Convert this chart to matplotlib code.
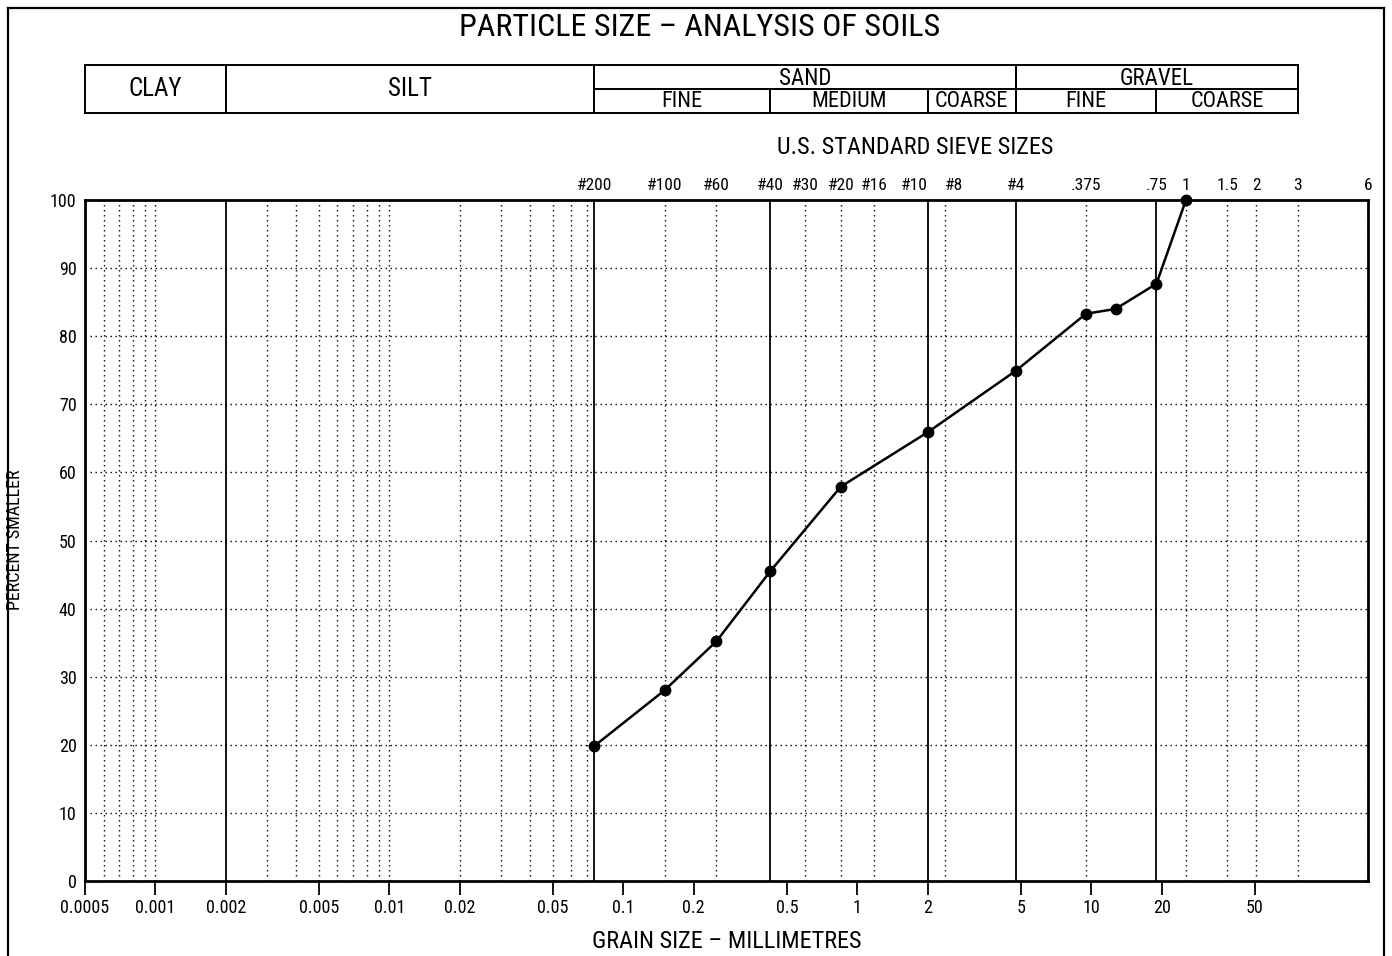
import matplotlib
matplotlib.use("Agg")
import matplotlib.pyplot as plt
from matplotlib.lines import Line2D
from matplotlib.ticker import NullLocator, FixedLocator, FixedFormatter
from matplotlib import font_manager

installed = {f.name for f in font_manager.fontManager.ttflist}
FONT = [f for f in ['Liberation Sans Narrow', 'Roboto Condensed', 'Roboto', 'DejaVu Sans']
        if f in installed]
plt.rcParams['font.family'] = FONT

# ---------------- data ----------------
grain_mm = [0.075, 0.15, 0.25, 0.425, 0.85, 2.0, 4.75, 9.5, 12.7, 19.0, 25.4]
percent_smaller = [19.8, 28.0, 35.2, 45.5, 57.9, 65.9, 74.9, 83.3, 84.0, 87.7, 100.0]

x_ticks = [0.0005, 0.001, 0.002, 0.005, 0.01, 0.02, 0.05, 0.1, 0.2, 0.5, 1, 2, 5, 10, 20, 50]
x_tick_labels = ['0.0005', '0.001', '0.002', '0.005', '0.01', '0.02', '0.05',
                 '0.1', '0.2', '0.5', '1', '2', '5', '10', '20', '50']
y_ticks = [0, 10, 20, 30, 40, 50, 60, 70, 80, 90, 100]

sieve_mm = [0.075, 0.15, 0.25, 0.425, 0.6, 0.85, 1.18, 2.0, 2.36, 4.75,
            9.5, 19.0, 25.4, 38.1, 50.8, 76.2, 152.4]
sieve_labels = ['#200', '#100', '#60', '#40', '#30', '#20', '#16', '#10', '#8', '#4',
                '.375', '.75', '1', '1.5', '2', '3', '6']

boundary_mm = [0.002, 0.075, 0.425, 2.0, 4.75, 19.0]
minor_grid_mm = [0.0006, 0.0007, 0.0008, 0.0009, 0.001,
                 0.003, 0.004, 0.005, 0.006, 0.007, 0.008, 0.009, 0.01,
                 0.02, 0.03, 0.04, 0.05, 0.06, 0.07,
                 0.15, 0.25, 0.6, 0.85, 1.18, 2.36, 9.5,
                 25.4, 38.1, 50.8, 76.2, 152.4]

class_full = [('CLAY', 0.0005, 0.002), ('SILT', 0.002, 0.075)]
class_top = [('SAND', 0.075, 4.75), ('GRAVEL', 4.75, 76.2)]
class_sub = [('FINE', 0.075, 0.425), ('MEDIUM', 0.425, 2.0), ('COARSE', 2.0, 4.75),
             ('FINE', 4.75, 19.0), ('COARSE', 19.0, 76.2)]

X_MIN, X_MAX = 0.0005, 152.4

# ---------------- figure ----------------
W, H = 1392, 956
fig = plt.figure(figsize=(W / 100, H / 100), dpi=100)
fig.patch.set_facecolor('white')

def fx(px):
    return px / W

def fy(py):
    return 1 - py / H

L, R, T, B = 85, 1368, 200, 881
ax = fig.add_axes([fx(L), fy(B), fx(R - L), (B - T) / H])
ax.set_xscale('log')
ax.set_xlim(X_MIN, X_MAX)
ax.set_ylim(0, 100)

for s in ax.spines.values():
    s.set_linewidth(2.0)
    s.set_color('black')

dotted = (0, (1, 2.6))
for v in minor_grid_mm:
    ax.axvline(v, color='black', lw=1.0, ls=dotted, zorder=1)
for v in boundary_mm:
    ax.axvline(v, color='black', lw=1.3, zorder=1)
for v in y_ticks[1:-1]:
    ax.axhline(v, color='black', lw=1.0, ls=dotted, zorder=1)

ax.plot(grain_mm, percent_smaller, color='black', lw=1.8, marker='o',
        markersize=7.5, clip_on=False, zorder=5)

ax.xaxis.set_major_locator(FixedLocator(x_ticks))
ax.xaxis.set_major_formatter(FixedFormatter(x_tick_labels))
ax.xaxis.set_minor_locator(NullLocator())
ax.tick_params(axis='x', direction='out', length=10, width=1.3, pad=3, labelsize=13)
ax.set_yticks(y_ticks)
ax.tick_params(axis='y', length=0, pad=6, labelsize=13)

sec = ax.secondary_xaxis('top')
sec.xaxis.set_major_locator(FixedLocator(sieve_mm))
sec.xaxis.set_major_formatter(FixedFormatter(sieve_labels))
sec.xaxis.set_minor_locator(NullLocator())
sec.tick_params(length=0, pad=5, labelsize=12.5)
sec.spines['top'].set_visible(False)
for lab in sec.get_xticklabels():
    if lab.get_text() == '#10':
        lab.set_horizontalalignment('right')
    elif lab.get_text() == '#8':
        lab.set_horizontalalignment('left')

# ---------------- classification table ----------------
TT, TB = 65, 113
tax = fig.add_axes([fx(L), fy(TB), fx(R - L), (TB - TT) / H])
tax.set_xscale('log')
tax.set_xlim(X_MIN, X_MAX)
tax.set_ylim(0, 2)
tax.axis('off')

def gm(a, b):
    return (a * b) ** 0.5

lw_t = 1.4
tax.plot([X_MIN, 76.2], [2, 2], color='black', lw=lw_t, clip_on=False)
tax.plot([X_MIN, 76.2], [0, 0], color='black', lw=lw_t, clip_on=False)
tax.plot([0.075, 76.2], [1, 1], color='black', lw=lw_t, clip_on=False)
for name, a, b in class_full:
    tax.plot([a, a], [0, 2], color='black', lw=lw_t, clip_on=False)
    tax.text(gm(a, b), 1, name, ha='center', va='center', fontsize=18)
for name, a, b in class_top:
    tax.plot([a, a], [0, 2], color='black', lw=lw_t, clip_on=False)
    tax.plot([b, b], [0, 2], color='black', lw=lw_t, clip_on=False)
    tax.text(gm(a, b), 1.45, name, ha='center', va='center', fontsize=16.5)
for name, a, b in class_sub:
    tax.plot([a, a], [0, 1], color='black', lw=lw_t, clip_on=False)
    tax.text(gm(a, b), 0.47, name, ha='center', va='center', fontsize=16)

# ---------------- texts ----------------
fig.text(fx(700), fy(28), 'PARTICLE SIZE – ANALYSIS OF SOILS', ha='center', va='center',
         fontsize=23)
fig.text(fx(915), fy(148), 'U.S. STANDARD SIEVE SIZES', ha='center', va='center', fontsize=17.5)
fig.text(fx(727), fy(942), 'GRAIN SIZE – MILLIMETRES', ha='center', va='center', fontsize=17.5)
fig.text(fx(15), fy(540), 'PERCENT SMALLER', ha='center', va='center', rotation=90, fontsize=13)

# page frame
for xs, ys in [([8, 8], [8, 960]), ([8, 1384], [8, 8]), ([1384, 1384], [8, 960])]:
    fig.add_artist(Line2D([fx(x) for x in xs], [fy(y) for y in ys], color='black', lw=1.6))

fig.savefig('out.png', dpi=100)
